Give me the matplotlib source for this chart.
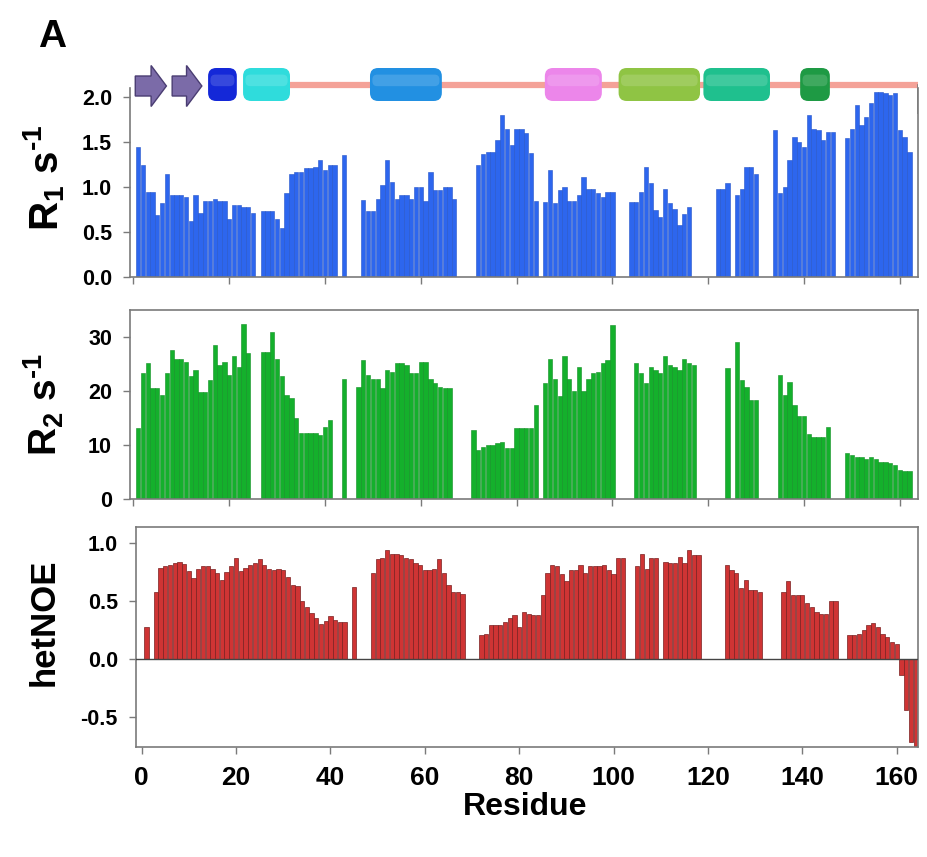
import numpy as np
import matplotlib
matplotlib.use("Agg")
import matplotlib.pyplot as plt
from matplotlib.patches import FancyBboxPatch, FancyArrow

N = None
# ---------------- data (residue 1..164) ----------------
residues = list(range(1, 165))

r1_vals = [1.44, 1.24, 0.95, 0.95, 0.69, 0.82, 1.15, 0.91, 0.91, 0.91,
           0.89, 0.62, 0.91, 0.71, 0.84, 0.84, 0.87, 0.85, 0.84, 0.65,
           0.80, 0.80, 0.78, 0.78, 0.71, N, 0.73, 0.73, 0.73, 0.65,
           0.54, 0.93, 1.15, 1.17, 1.17, 1.21, 1.21, 1.22, 1.30, 1.19,
           1.24, 1.24, N, 1.36, N, N, N, 0.86, 0.73, 0.73,
           0.87, 1.02, 1.30, 1.06, 0.87, 0.91, 0.91, 0.87, 1.00, 1.00,
           0.85, 1.17, 0.97, 0.97, 1.00, 1.00, 0.87, N, N, N,
           N, 1.24, 1.37, 1.39, 1.39, 1.52, 1.80, 1.65, 1.47, 1.65,
           1.65, 1.60, 1.38, 0.85, N, 0.83, 1.19, 0.82, 0.97, 1.00,
           0.85, 0.85, 0.91, 1.11, 0.98, 0.98, 0.93, 0.89, 0.95, 0.95,
           N, N, N, 0.83, 0.83, 0.95, 1.22, 1.04, 0.75, 0.67,
           0.98, 0.82, 0.76, 0.58, 0.70, 0.78, N, N, N, N,
           N, 0.98, 0.98, 1.04, N, 0.91, 0.98, 1.22, 1.22, 1.15,
           N, N, N, 1.63, 0.93, 1.00, 1.30, 1.56, 1.50, 1.45,
           1.80, 1.65, 1.63, 1.52, 1.61, 1.61, N, N, 1.54, 1.65,
           1.91, 1.69, 1.78, 1.93, 2.06, 2.06, 2.04, 2.02, 2.04, 1.63,
           1.56, 1.39, N, N]

r2_vals = [13.1, 23.3, 25.2, 20.6, 20.6, 19.3, 23.3, 27.6, 26.0, 26.0,
           25.4, 22.7, 23.9, 19.9, 19.9, 22.0, 28.5, 24.8, 25.4, 23.0,
           26.4, 24.5, 32.5, 27.0, N, N, 27.3, 27.3, 30.9, 26.0,
           22.7, 19.3, 18.7, 15.0, 12.2, 12.2, 12.2, 12.2, 11.9, 13.4,
           14.6, N, N, 22.3, N, N, 20.8, 25.7, 23.0, 22.3,
           22.3, 20.6, 23.9, 23.6, 25.1, 25.1, 24.8, 23.3, 23.3, 25.4,
           25.4, 22.3, 21.4, 20.8, 20.6, 20.6, N, N, N, N,
           12.8, 9.1, 9.7, 10.0, 10.0, 10.3, 10.6, 9.4, 9.4, 13.1,
           13.1, 13.1, 13.1, 17.4, N, 21.4, 26.0, 22.3, 19.0, 26.4,
           22.3, 20.0, 24.5, 20.0, 22.3, 23.3, 23.6, 25.1, 25.7, 32.2,
           N, N, N, N, 25.1, 23.3, 21.4, 24.5, 23.9, 23.3,
           26.4, 24.8, 24.5, 23.9, 26.0, 25.1, 24.8, N, N, N,
           N, N, N, 24.2, N, 29.1, 22.0, 20.8, 18.3, 18.3,
           N, N, N, N, 23.0, 19.3, 21.7, 17.4, 15.3, 15.3,
           12.1, 11.5, 11.5, 11.5, 13.4, N, N, N, 8.5, 8.1,
           7.8, 7.8, 7.5, 7.8, 7.5, 6.9, 6.9, 6.6, 6.3, 5.4,
           5.1, 5.1, N, N]

noe_vals = [0.28, N, 0.58, 0.79, 0.80, 0.81, 0.83, 0.84, 0.82, 0.76,
            0.70, 0.78, 0.80, 0.80, 0.78, 0.74, 0.68, 0.75, 0.80, 0.87,
            0.76, 0.79, 0.81, 0.83, 0.86, 0.81, 0.78, 0.77, 0.78, 0.77,
            0.71, 0.64, 0.63, 0.50, 0.45, 0.40, 0.35, 0.30, 0.33, 0.37,
            0.34, 0.32, 0.32, N, 0.625, N, N, N, 0.74, 0.86,
            0.87, 0.94, 0.91, 0.91, 0.90, 0.87, 0.86, 0.83, 0.81, 0.77,
            0.77, 0.78, 0.86, 0.74, 0.64, 0.58, 0.58, 0.56, N, N,
            N, 0.21, 0.22, 0.29, 0.29, 0.29, 0.32, 0.35, 0.38, 0.28,
            0.41, 0.39, 0.38, 0.38, 0.55, 0.74, 0.81, 0.80, 0.73, 0.67,
            0.77, 0.77, 0.81, 0.74, 0.80, 0.80, 0.80, 0.81, 0.77, 0.73,
            0.87, 0.87, N, N, 0.80, 0.91, 0.78, 0.87, 0.87, N,
            0.84, 0.83, 0.83, 0.88, 0.83, 0.94, 0.90, 0.90, N, N,
            N, N, N, 0.81, 0.77, 0.74, 0.61, 0.68, 0.60, 0.60,
            0.58, N, N, N, N, 0.58, 0.67, 0.55, 0.55, 0.55,
            0.48, 0.45, 0.41, 0.39, 0.39, 0.50, 0.50, N, N, 0.21,
            0.21, 0.22, 0.25, 0.29, 0.31, 0.28, 0.22, 0.19, 0.15, 0.13,
            -0.14, -0.44, -0.72, -0.76]

xticks = [0, 20, 40, 60, 80, 100, 120, 140, 160]
r1_ticks = [0.0, 0.5, 1.0, 1.5, 2.0]
r2_ticks = [0, 10, 20, 30]
noe_ticks = [-0.5, 0.0, 0.5, 1.0]

# secondary structure: (kind, start, end, color)
ss_elements = [
    ("strand", 0.4, 6.9, "#7B6BA8"),
    ("strand", 8.1, 14.3, "#7B6BA8"),
    ("helix", 15.6, 21.6, "#1428D8"),
    ("helix", 22.9, 32.7, "#2FDCDC"),
    ("helix", 49.4, 64.4, "#2290E2"),
    ("helix", 85.9, 97.8, "#EC86EA"),
    ("helix", 101.3, 118.3, "#8FC444"),
    ("helix", 119.0, 132.9, "#1FC08E"),
    ("helix", 139.2, 145.4, "#1E9A44"),
]

# ---------------- styling ----------------
plt.rcParams['font.family'] = ['Liberation Sans', 'DejaVu Sans']
plt.rcParams['font.weight'] = 'bold'
plt.rcParams['mathtext.fontset'] = 'custom'
plt.rcParams['mathtext.rm'] = 'Liberation Sans:bold'
plt.rcParams['mathtext.it'] = 'Liberation Sans:bold'
plt.rcParams['mathtext.bf'] = 'Liberation Sans:bold'
plt.rcParams['mathtext.default'] = 'rm'

W, H = 927, 857
fig = plt.figure(figsize=(W / 100, H / 100), dpi=100)


def pos(x0, x1, y0, y1):
    return [x0 / W, 1 - y1 / H, (x1 - x0) / W, (y1 - y0) / H]


spine_col = "#7a7a7a"
ax1 = fig.add_axes(pos(130, 918, 88, 277))
ax2 = fig.add_axes(pos(130, 918, 310, 499))
ax3 = fig.add_axes(pos(136, 918, 527, 747))

res = np.array(residues, dtype=float)


def arr(v):
    return np.array([np.nan if x is None else x for x in v], dtype=float)


def draw(ax, vals, color, edge, lw):
    v = arr(vals)
    m = ~np.isnan(v)
    ax.bar(res[m], v[m], width=0.9, color=color, edgecolor=edge,
           linewidth=lw, zorder=2)


draw(ax1, r1_vals, "#2D66EE", "#2454c8", 0.4)
draw(ax2, r2_vals, "#14B02C", "#0f8f22", 0.4)
draw(ax3, noe_vals, "#CF3434", "#7a2020", 0.5)
ax3.axhline(0, color="#444444", lw=1.0, zorder=3)

ax1.set_xlim(-0.7, 163.8)
ax2.set_xlim(-0.7, 163.8)
ax3.set_xlim(-1.2, 164.5)
ax1.set_ylim(0, 2.1)
ax2.set_ylim(0, 35)
ax3.set_ylim(-0.76, 1.14)

ax1.set_yticks(r1_ticks)
ax1.set_yticklabels([f"{t:.1f}" for t in r1_ticks])
ax2.set_yticks(r2_ticks)
ax2.set_yticklabels([str(t) for t in r2_ticks])
ax3.set_yticks(noe_ticks)
ax3.set_yticklabels([f"{t:.1f}" for t in noe_ticks])

for ax in (ax1, ax2, ax3):
    ax.set_xticks(xticks)
    for s in ax.spines.values():
        s.set_color(spine_col)
        s.set_linewidth(1.2)
    ax.tick_params(direction="out", length=5, width=1, color=spine_col,
                   labelsize=15.5, pad=8)
ax1.tick_params(axis="x", labelbottom=False)
ax2.tick_params(axis="x", labelbottom=False)
ax3.tick_params(axis="x", labelsize=19, pad=9)
ax1.spines["top"].set_visible(False)

for lab in ax3.get_xticklabels() + ax3.get_yticklabels() + \
        ax1.get_yticklabels() + ax2.get_yticklabels():
    lab.set_fontweight("bold")

# axis labels
fig.text(44 / W, 1 - 178 / H, r"R$_1$ s$^{\text{-}1}$", rotation=90,
         ha="center", va="center", fontsize=29, fontweight="bold")
fig.text(44 / W, 1 - 405 / H, r"R$_2$ s$^{\text{-}1}$", rotation=90,
         ha="center", va="center", fontsize=28, fontweight="bold")
fig.text(44 / W, 1 - 622 / H, "hetNOE", rotation=90, ha="center",
         va="center", fontsize=25, fontweight="bold")
fig.text(525 / W, 1 - 807 / H, "Residue", ha="center", va="center",
         fontsize=23, fontweight="bold")
fig.text(52 / W, 1 - 37 / H, "A", ha="center", va="center",
         fontsize=28, fontweight="bold")

# ---------------- secondary structure track ----------------
y_top, y_bot = 58, 114
ss = fig.add_axes(pos(130, 918, y_top, y_bot))
ss.set_xlim(-0.7, 163.8)
pxres = (918 - 130) / (163.8 + 0.7)
ss.set_ylim(0, (y_bot - y_top) / pxres)
ss.axis("off")


def yy(py):
    return (y_bot - py) / pxres


ss.plot([32, 163.8], [yy(85), yy(85)], color="#F4A298", lw=4.5,
        solid_capstyle="butt", zorder=1)
# right spine join
ss.plot([163.8, 163.8], [yy(85), 0], color=spine_col, lw=1.2, zorder=1)

for kind, a, b, col in ss_elements:
    if kind == "strand":
        arrow = FancyArrow(a, yy(86), b - a, 0, width=(96 - 76) / pxres,
                           head_width=(106 - 65) / pxres,
                           head_length=3.2, length_includes_head=True,
                           facecolor=col, edgecolor="#4a3d72", lw=1.0,
                           zorder=3)
        ss.add_patch(arrow)
    else:
        y0, y1 = yy(101), yy(68)
        rs = 1.7
        box = FancyBboxPatch((a, y0), b - a, y1 - y0,
                             boxstyle=f"round,pad=0,rounding_size={rs}",
                             facecolor=col, edgecolor="none", zorder=3)
        ss.add_patch(box)
        # subtle highlight band to mimic the 3D look
        hl = FancyBboxPatch((a + 0.5, y0 + (y1 - y0) * 0.45), b - a - 1.0,
                            (y1 - y0) * 0.35,
                            boxstyle=f"round,pad=0,rounding_size={rs*0.6}",
                            facecolor="white", alpha=0.15, edgecolor="none",
                            zorder=4)
        ss.add_patch(hl)

fig.savefig("out.png", dpi=100)
